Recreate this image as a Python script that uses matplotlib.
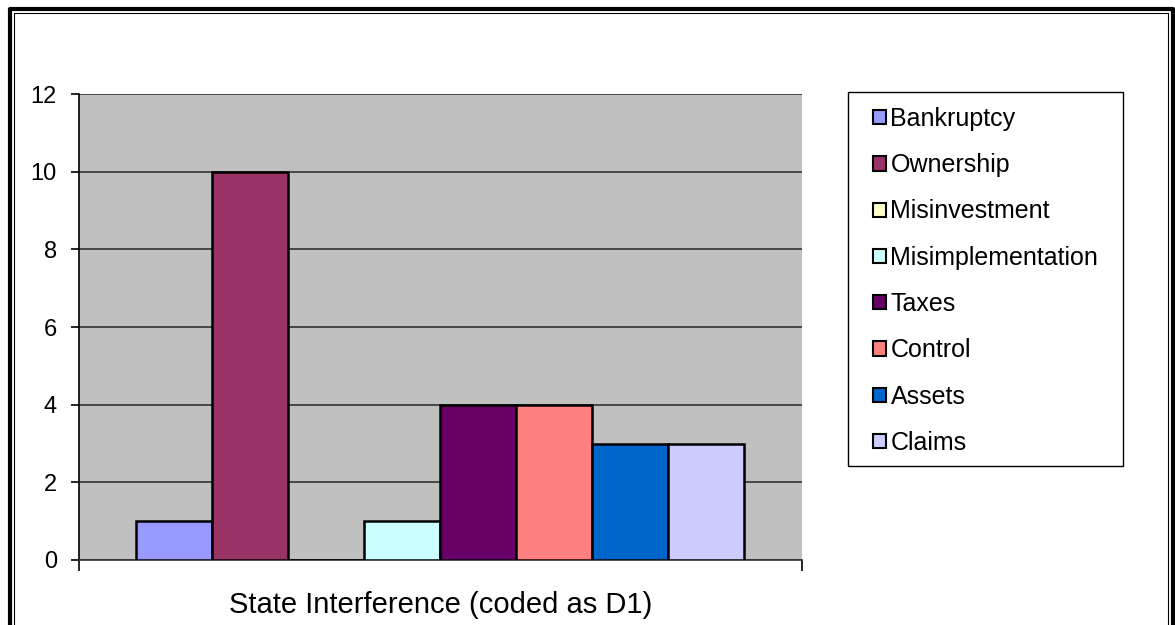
import matplotlib.pyplot as plt
from matplotlib.patches import Rectangle
from matplotlib.lines import Line2D

plt.rcParams['font.family'] = ['Liberation Sans', 'DejaVu Sans']

# one category, eight series
series = ['Bankruptcy', 'Ownership', 'Misinvestment', 'Misimplementation',
          'Taxes', 'Control', 'Assets', 'Claims']
values = [1, 10, 0, 1, 4, 4, 3, 3]
colors = ['#9999FF', '#993366', '#FFFFCC', '#CCFFFF',
          '#660066', '#FF8080', '#0066CC', '#CCCCFF']
category = 'State Interference (coded as D1)'

W, H = 1175, 625
fig = plt.figure(figsize=(W / 100, H / 100), dpi=100)
ax = fig.add_axes([79 / W, 1 - 560 / H, 723 / W, 466 / H])
ax.set_facecolor('#C0C0C0')

bw = 76 / 723
start = -0.5 + 57 / 723
for i, (s, v, c) in enumerate(zip(series, values, colors)):
    ax.bar(start + i * bw, v, width=bw, align='edge', color=c,
           edgecolor='black', linewidth=1.8, label=s, zorder=3)

ax.set_xlim(-0.5, 0.5)
ax.set_ylim(0, 12)
ax.set_yticks(range(0, 13, 2))
ax.yaxis.grid(True, color='#333333', linewidth=1.2, zorder=1)
ax.set_axisbelow(True)
ax.tick_params(axis='y', labelsize=17, length=6, width=1.2, pad=10)
ax.set_xticks([-0.5, 0.5])
ax.set_xticklabels([])
ax.tick_params(axis='x', length=8, width=1.2, direction='out')
ax.set_xlabel(category, fontsize=21, labelpad=11)
for side in ['top', 'right']:
    ax.spines[side].set_visible(False)
ax.spines['left'].set_linewidth(1.2)
ax.spines['bottom'].set_color('#333333')
ax.spines['bottom'].set_linewidth(1.2)

# legend: entries placed without frame, box drawn separately
handles = [Rectangle((0, 0), 1, 1, facecolor=c, edgecolor='black', linewidth=1.5)
           for c in colors]
leg = fig.legend(handles, series, loc='upper left',
                 bbox_to_anchor=(873 / W, 1 - 107 / H),
                 fontsize=18, frameon=False,
                 handlelength=0.5, handleheight=0.5,
                 handletextpad=0.2, labelspacing=0.89, borderpad=0,
                 borderaxespad=0)
fig.add_artist(Rectangle((848 / W, 1 - 466 / H), 275 / W, 374 / H,
                         transform=fig.transFigure, fill=False,
                         edgecolor='black', linewidth=1.0))

# double border around the picture (bottom edge falls outside the image)
def frame(x0, x1, y0, lw):
    xs = [x0 / W, x0 / W, x1 / W, x1 / W]
    ys = [-0.05, 1 - y0 / H, 1 - y0 / H, -0.05]
    fig.add_artist(Line2D(xs, ys, transform=fig.transFigure,
                          color='black', linewidth=lw))

frame(10, 1172.5, 9, 3.0)
frame(13.5, 1168, 12.5, 0.8)

fig.savefig('out.png', dpi=100)
